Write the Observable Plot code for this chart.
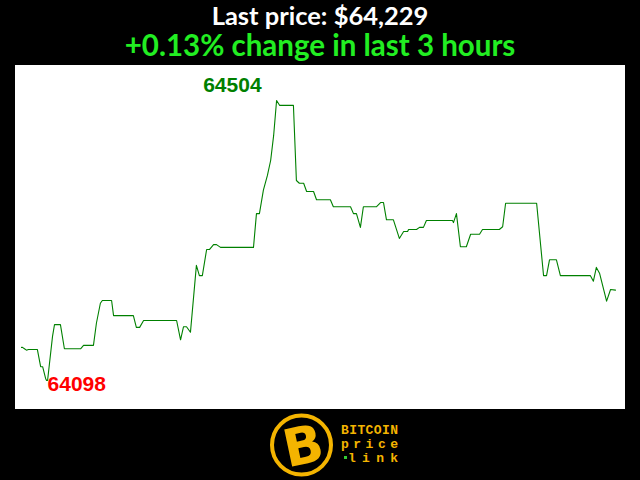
<!DOCTYPE html>
<html>
<head>
<meta charset="utf-8">
<script src="https://cdn.jsdelivr.net/npm/d3@7"></script>
<script src="https://cdn.jsdelivr.net/npm/@observablehq/plot@0.6"></script>
<style>
  html, body { margin: 0; padding: 0; background: #000; width: 640px; height: 480px; overflow: hidden; }
  #title { position: absolute; left: 0; top: 2px; width: 640px; text-align: center; color: #fff;
           font-family: Lato, "Open Sans", sans-serif; font-weight: bold; font-size: 25.5px; line-height: 26px; }
  #subtitle { position: absolute; left: 0; top: 29px; width: 640px; text-align: center; color: #22ee22;
           font-family: Lato, "Open Sans", sans-serif; font-weight: bold; font-size: 29.5px; line-height: 32px; }
  #chart { position: absolute; left: 15px; top: 65px; width: 610px; height: 344px; background: #fff; }
  #logo { position: absolute; left: 0; top: 409px; }
</style>
</head>
<body>
<div id="title"></div>
<div id="subtitle"></div>
<div id="chart"></div>
<svg id="logo" width="640" height="71"></svg>
<script>
// minutes since start of the 3-hour window
const minutes = [0,0.3,0.9,1.5,2.1,4.8,5.8,6.4,7.3,7.6,7.9,9.4,10.0,11.8,13.0,17.9,18.8,21.8,22.7,23.9,24.5,27.3,27.9,33.9,34.8,35.8,37.0,47.0,48.2,49.1,50.0,51.2,53.0,53.9,54.8,56.1,57.0,58.2,59.1,60.3,70.3,71.2,72.1,73.3,74.5,75.5,76.4,77.3,78.2,82.4,83.3,84.2,85.5,86.4,88.5,89.4,93.6,94.5,95.5,99.7,100.6,101.5,102.7,103.6,107.6,108.8,109.7,110.6,112.7,114.5,115.8,117.0,117.3,119.7,120.6,121.8,122.7,130.6,130.9,131.8,133.0,134.8,136.1,138.8,139.7,144.8,145.8,146.7,156.1,158.2,159.1,160.0,162.1,163.3,172.4,173.3,174.2,175.2,177.3,178.5,180.0];
// BTC price (USD)
const prices = [64146,64146,64144,64142,64143,64143,64118,64118,64101,64098,64098,64162,64179,64179,64144,64144,64149,64149,64181,64210,64214,64214,64192,64192,64175,64175,64185,64185,64157,64176,64176,64168,64265,64250,64250,64288,64288,64295,64295,64291,64291,64340,64340,64374,64395,64417,64453,64504,64497,64497,64388,64384,64384,64372,64372,64360,64360,64350,64350,64350,64340,64340,64320,64350,64350,64356,64356,64331,64331,64304,64314,64314,64317,64317,64320,64320,64330,64330,64327,64340,64292,64292,64310,64310,64317,64317,64321,64355,64355,64250,64250,64273,64273,64250,64250,64242,64262,64253,64213,64230,64229];
const titleText = "Last price: $64,229";
const subtitleText = "+0.13% change in last 3 hours";
const logoLines = ["BITCOIN", "price", "link"];

const data = minutes.map((t, i) => ({t, p: prices[i]}));
const maxP = d3.max(prices), minP = d3.min(prices);
const maxPt = data.find(d => d.p === maxP);
const minPt = data.find(d => d.p === minP);

document.getElementById("title").textContent = titleText;
document.getElementById("subtitle").textContent = subtitleText;

const chart = Plot.plot({
  width: 610,
  height: 344,
  marginLeft: 6,
  marginRight: 10,
  marginTop: 35,
  marginBottom: 29,
  style: {background: "#fff", overflow: "visible"},
  x: {domain: [0, 180], axis: null},
  y: {domain: [minP, maxP], axis: null},
  marks: [
    Plot.line(data, {x: "t", y: "p", stroke: "#008000", strokeWidth: 1.1}),
    Plot.text([maxPt], {x: "t", y: "p", text: d => String(d.p), fill: "#008000",
      fontSize: 21, fontWeight: "bold", fontFamily: "Liberation Sans, Arial, sans-serif",
      textAnchor: "end", lineAnchor: "bottom", dx: -15, dy: -9}),
    Plot.text([minPt], {x: "t", y: "p", text: d => String(d.p), fill: "#ff0000",
      fontSize: 21, fontWeight: "bold", fontFamily: "Liberation Sans, Arial, sans-serif",
      textAnchor: "start", lineAnchor: "bottom", dx: 1, dy: 10})
  ]
});
document.getElementById("chart").appendChild(chart);

// logo
const logo = d3.select("#logo");
const gold = "#f4b400";
logo.append("circle").attr("cx", 301.5).attr("cy", 36).attr("r", 29.5)
  .attr("fill", "none").attr("stroke", gold).attr("stroke-width", 4);
logo.append("text").attr("x", 303).attr("y", 55).attr("text-anchor", "middle")
  .attr("transform", "rotate(-12 301.5 36)")
  .attr("font-family", "DejaVu Sans, sans-serif").attr("font-weight", "bold")
  .attr("font-size", 52).attr("fill", gold).text("B");
const ys = [25, 39, 53];
logoLines.forEach((s, i) => {
  logo.append("text").attr("x", i === 2 ? 348 : 341).attr("y", ys[i])
    .attr("font-family", "Liberation Mono, DejaVu Sans Mono, monospace").attr("font-weight", "bold")
    .attr("font-size", 13).attr("fill", gold)
    .attr("textLength", i === 2 ? 50 : 57).attr("lengthAdjust", "spacing").text(s);
});
logo.append("rect").attr("x", 344).attr("y", 47).attr("width", 3).attr("height", 3).attr("fill", "#33cc33");
</script>
</body>
</html>
